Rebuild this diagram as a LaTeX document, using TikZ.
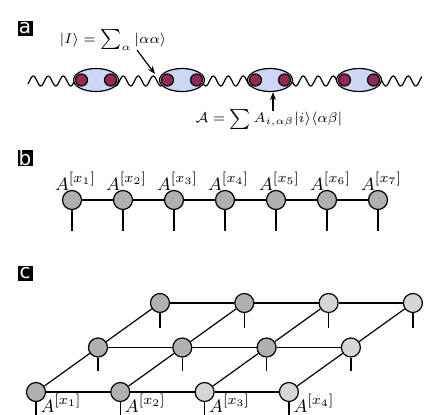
\documentclass[tikz,border=0pt]{standalone}
\usepackage{fontspec}
\newfontfamily\boxfont{DejaVu Sans}
\usetikzlibrary{arrows.meta,shapes.geometric}
\definecolor{cellfill}{RGB}{206,214,246}
\definecolor{qubit}{RGB}{150,40,85}
\definecolor{tdark}{RGB}{176,176,176}
\definecolor{tlight}{RGB}{214,214,214}
\begin{document}
\begin{tikzpicture}[x=0.5pt,y=-0.5pt,line width=0.6pt,
  panel/.style={fill=black,text=white,font=\boxfont,inner sep=0pt,
    minimum width=7.5pt,minimum height=7.5pt},
  cell/.style={ellipse,draw,fill=cellfill,minimum width=22.5pt,minimum height=11.5pt,inner sep=0pt},
  qdot/.style={circle,draw,fill=qubit,minimum size=6pt,inner sep=0pt},
  site/.style={circle,draw,fill=tdark,minimum size=9.5pt,inner sep=0pt},
  tip/.style={-{Stealth[length=4pt,width=3pt]}},
  lbl/.style={inner sep=0pt},
  eqfont/.style={font=\fontsize{7.4}{9}\selectfont},
  sitefont/.style={font=\fontsize{9.5}{11}\selectfont}]
\clip (0,0) rectangle (424,414);
\useasboundingbox (0,0) rectangle (424,414);

% ---------- panel a: entangled pairs and projectors ----------
\node[panel] (pa) at (25,28) {a};
\draw plot[domain=28:422,samples=400,smooth] (\x,{81+5*sin(24*(\x-22))});
\foreach \k/\cx in {1/96,2/182,3/270,4/359}{
  \node[cell] (e\k) at (\cx,80) {};
  \node[qdot] (l\k) at (\cx-14.5,80) {};
  \node[qdot] (r\k) at (\cx+14.5,80) {};
}
\node[lbl,eqfont] (bell) at (113,40) {$|I\rangle = \sum_\alpha |\alpha\alpha\rangle$};
\coordinate (bellstart) at (137,50);
\coordinate (bellend) at (155,74);
\draw[tip] (bellstart) -- (bellend);
\node[lbl,eqfont] (proj) at (269,119) {$\mathcal{A} = \sum A_{i,\alpha\beta}|i\rangle\langle\alpha\beta|$};
\coordinate (projstart) at (273,111);
\draw[tip] (projstart) -- (e3.south -| projstart);

% ---------- panel b: matrix product state ----------
\node[panel] (pb) at (25,158) {b};
\foreach \k in {1,...,7}{
  \pgfmathsetmacro{\bx}{72+51*(\k-1)}
  \node[site] (b\k) at (\bx,200) {};
  \node[lbl,sitefont,anchor=base] (bl\k) at (\bx+3.5,190) {$A^{[x_{\k}]}$};
  \draw (b\k.south) -- ++(0,21);
}
\foreach \p/\q in {1/2,2/3,3/4,4/5,5/6,6/7}
  \draw (b\p) -- (b\q);

% ---------- panel c: projected entangled pair state ----------
\node[panel] (pc) at (25,273) {c};
\foreach \j/\cols in {0/{tdark,tdark,tlight,tlight},1/{tdark,tdark,tdark,tlight},2/{tdark,tdark,tlight,tlight}}{
  \foreach \c [count=\i from 0] in \cols{
    \node[site,fill=\c] (c\i\j) at ({36+84.3*\i+62*\j},{392-44.5*\j}) {};
  }
}
\foreach \j/\len in {2/14.5,1/13.5,0/40}
  \foreach \i in {0,...,3}
    \draw (c\i\j.south) -- ++(0,\len);
% rows
\foreach \j in {0,1,2}
  \foreach \p/\q in {0/1,1/2,2/3}
    \draw (c\p\j) -- (c\q\j);
% columns
\foreach \p/\q in {0/1,1/2}
  \foreach \i in {0,...,3}
    \draw (c\i\p) -- (c\i\q);
\foreach \i/\k in {0/1,1/2,2/3,3/4}
  \node[lbl,sitefont,anchor=base west] (cl\k) at ([xshift=2pt]c\i0.center |- 0,412) {$A^{[x_{\k}]}$};
\end{tikzpicture}
\end{document}
